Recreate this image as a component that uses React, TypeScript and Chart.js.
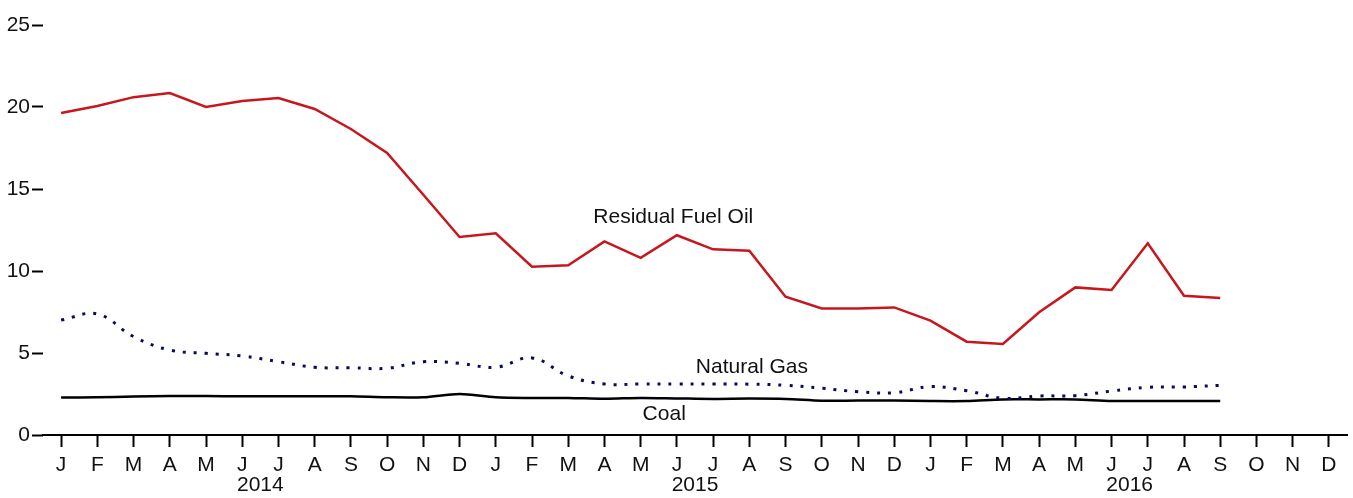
import React, { useEffect, useRef } from "react";
import { Chart, registerables } from "chart.js";

Chart.register(...registerables);

const MONTHS = ["J", "F", "M", "A", "M", "J", "J", "A", "S", "O", "N", "D"];
const YEARS = ["2014", "2015", "2016"];
const CATEGORIES = [...MONTHS, ...MONTHS, ...MONTHS];

const residualFuelOil = [
  19.63, 20.06, 20.6, 20.85, 20.0, 20.37, 20.55, 19.88, 18.66, 17.2, 14.65, 12.07,
  12.3, 10.26, 10.35, 11.8, 10.8, 12.18, 11.32, 11.24, 8.43, 7.72, 7.72, 7.78,
  6.97, 5.69, 5.55, 7.48, 9.0, 8.84, 11.69, 8.49, 8.35,
];
const naturalGas = [
  7.01, 7.38, 6.0, 5.18, 4.98, 4.82, 4.47, 4.13, 4.1, 4.07, 4.47, 4.37,
  4.13, 4.7, 3.6, 3.11, 3.11, 3.11, 3.11, 3.1, 3.03, 2.85, 2.64, 2.58,
  2.95, 2.7, 2.24, 2.38, 2.4, 2.68, 2.91, 2.93, 3.03,
];
const coal = [
  2.28, 2.3, 2.34, 2.38, 2.38, 2.36, 2.36, 2.36, 2.36, 2.3, 2.3, 2.5,
  2.3, 2.26, 2.26, 2.21, 2.26, 2.23, 2.2, 2.22, 2.2, 2.09, 2.1, 2.1,
  2.07, 2.07, 2.17, 2.17, 2.17, 2.07, 2.08, 2.08, 2.08,
];
const Y_TICKS = [0, 5, 10, 15, 20, 25];

const SERIES_LABELS = [
  { text: "Residual Fuel Oil", idx: 16.9, val: 13.3 },
  { text: "Natural Gas", idx: 19.07, val: 4.15 },
  { text: "Coal", idx: 16.65, val: 1.28 },
];

const FONT = '"Liberation Sans", Arial, Helvetica, sans-serif';

const textPlugin = {
  id: "textPlugin",
  afterDatasetsDraw(chart: any) {
    const { ctx, scales } = chart;
    const x = scales.x;
    const y = scales.y;
    ctx.save();
    ctx.font = `21px ${FONT}`;
    ctx.fillStyle = "#111";
    ctx.textAlign = "center";
    ctx.textBaseline = "middle";
    SERIES_LABELS.forEach((l) => {
      ctx.fillText(l.text, x.getPixelForValue(l.idx), y.getPixelForValue(l.val));
    });
    YEARS.forEach((yr, i) => {
      const a = x.getPixelForValue(i * 12);
      const b = x.getPixelForValue(i * 12 + 11);
      ctx.fillText(yr, (a + b) / 2, chart.chartArea.bottom + 50);
    });
    ctx.restore();
  },
};

export default function App() {
  const ref = useRef<HTMLCanvasElement | null>(null);

  useEffect(() => {
    document.body.style.margin = "0";
    const canvas = ref.current;
    if (!canvas) return;
    const chart = new Chart(canvas, {
      type: "line",
      data: {
        labels: CATEGORIES,
        datasets: [
          {
            label: "Residual Fuel Oil",
            data: residualFuelOil,
            borderColor: "#c8161d",
            borderWidth: 2.5,
            pointRadius: 0,
            tension: 0,
            fill: false,
          },
          {
            label: "Natural Gas",
            data: naturalGas,
            borderColor: "#0a0a5c",
            borderWidth: 3,
            borderDash: [3, 8],
            pointRadius: 0,
            tension: 0.4,
            fill: false,
          },
          {
            label: "Coal",
            data: coal,
            borderColor: "#000000",
            borderWidth: 2.5,
            pointRadius: 0,
            tension: 0.3,
            fill: false,
          },
        ],
      },
      options: {
        animation: false,
        responsive: false,
        maintainAspectRatio: false,
        layout: { padding: { top: 25, right: 6, left: 0, bottom: 0 } },
        plugins: {
          legend: { display: false },
          tooltip: { enabled: false },
          title: { display: false },
        },
        scales: {
          x: {
            type: "category",
            offset: true,
            grid: {
              display: true,
              offset: false,
              drawOnChartArea: false,
              drawTicks: true,
              tickLength: 12,
              tickWidth: 2,
              tickColor: "#000",
              color: "#000",
            },
            border: { display: true, color: "#000", width: 2 },
            ticks: {
              color: "#111",
              font: { family: FONT, size: 21 },
              padding: 6,
              maxRotation: 0,
              autoSkip: false,
            },
            afterFit: (scale: any) => {
              scale.height = 63;
            },
          },
          y: {
            min: 0,
            max: 25,
            afterBuildTicks: (scale: any) => {
              scale.ticks = Y_TICKS.map((v) => ({ value: v }));
            },
            grid: {
              display: true,
              drawOnChartArea: false,
              drawTicks: true,
              tickLength: 11,
              tickWidth: 2,
              tickColor: "#000",
              color: "#000",
            },
            border: { display: false },
            ticks: {
              color: "#111",
              font: { family: FONT, size: 21 },
              padding: 2,
            },
            afterFit: (scale: any) => {
              scale.width = 43;
            },
          },
        },
      },
      plugins: [textPlugin],
    });
    return () => chart.destroy();
  }, []);

  return (
    <div style={{ width: 1353, height: 498, position: "relative" }}>
      <canvas ref={ref} width={1353} height={498} style={{ display: "block" }} />
    </div>
  );
}
